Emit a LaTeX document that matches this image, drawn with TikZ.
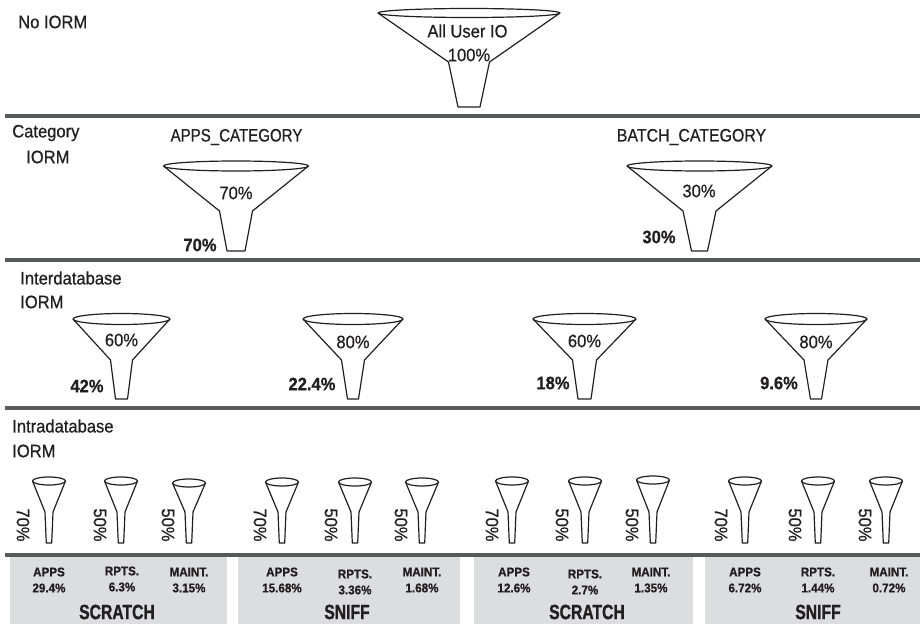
\documentclass[tikz,border=0pt]{standalone}
\usepackage{fontspec}
\setmainfont[FakeStretch=0.92,FakeBold=0.7]{Liberation Sans}
\newfontfamily\storefont[FakeStretch=0.76,FakeBold=1.2]{Liberation Sans}
\definecolor{ruleGray}{RGB}{88,89,91}
\definecolor{boxGray}{RGB}{220,221,223}
\definecolor{inkGray}{RGB}{35,31,32}
\tikzset{
  lab/.style={inner sep=0pt,text=inkGray,font=\fontsize{13.5}{15}\selectfont},
  labb/.style={inner sep=0pt,text=inkGray,font=\fontsize{13.5}{15}\selectfont\bfseries},
  tiny/.style={inner sep=0pt,align=center,text=inkGray,font=\fontsize{9.5}{12}\selectfont\bfseries},
  store/.style={inner sep=0pt,text=inkGray,font=\fontsize{15.5}{17}\storefont\bfseries},
  funnelline/.style={line width=0.9pt,line join=round,inkGray},
  sep/.style={line width=3pt,ruleGray}
}
% args: centre x, top y, half width, rim height, neck half width, neck y, foot half width, foot y
\newcommand{\funnel}[8]{
  \draw [funnelline] (#1,#2) ellipse [x radius=#3,y radius=#4];
  \draw [funnelline] (#1-#3,#2) -- (#1-#5,#6) -- (#1-#7,#8) -- (#1+#7,#8) -- (#1+#5,#6) -- (#1+#3,#2);
}
\begin{document}
\begin{tikzpicture}[x=0.75pt,y=0.75pt,yscale=-1,xscale=1]
\useasboundingbox (0,0) rectangle (920,624);

%grey boxes
\fill [boxGray] (10,556) rectangle (227,624);
\fill [boxGray] (238,556) rectangle (460,624);
\fill [boxGray] (474,556) rectangle (693,624);
\fill [boxGray] (705,556) rectangle (920,624);

%rules
\draw [sep] (5,116) -- (920,116);
\draw [sep] (5,260) -- (920,260);
\draw [sep] (5,408) -- (920,408);
\draw [sep] (5,555) -- (920,555);

%No IORM row
\node [lab,anchor=west] (noiorm) at (18,22) {No IORM};
\funnel{469}{13}{91}{4.5}{20.5}{62}{11}{107}
\node [lab] (alluser) at (467.5,31) {All User IO};
\node [lab] (allpct) at (469,55) {100\%};

%Category row
\node [lab,anchor=west] (cat1) at (12,133) {Category};
\node [lab,anchor=west] (cat2) at (26,157) {IORM};
\node [lab,xscale=0.91] (appscat) at (236.5,137) {APPS\_CATEGORY};
\node [lab,xscale=0.96] (batchcat) at (691.5,137) {BATCH\_CATEGORY};
\funnel{236}{166}{72.5}{5}{16.5}{211}{9}{251}
\funnel{699.5}{166}{72.5}{5}{16.5}{211}{8}{251}
\node [lab] (catin1) at (236,193) {70\%};
\node [lab] (catin2) at (699,191) {30\%};
\node [labb] (catout1) at (200,245) {70\%};
\node [labb] (catout2) at (659,237) {30\%};

%Interdatabase row
\node [lab,anchor=west] (inter1) at (20,278) {Interdatabase};
\node [lab,anchor=west] (inter2) at (20,302) {IORM};
\foreach \cx/\rx/\nk/\ft/\inp/\iny/\outp/\ox/\oy/\id in {121.5/48.5/11/6/60/340/42/87/386/a,353/50/11.5/5.5/80/342/22.4/312/384/b,584.5/51.5/12/6.5/60/341/18/553/383/c,816/51/12/5.5/80/342/9.6/779/383/d}{
  \funnel{\cx}{319}{\rx}{5.5}{\nk}{360}{\ft}{399}
  \node [lab] (in\id) at (\cx,\iny) {\inp\%};
  \node [labb] (out\id) at (\ox,\oy) {\outp\%};
}

%Intradatabase row
\node [lab,anchor=west] (intra1) at (12,426) {Intradatabase};
\node [lab,anchor=west] (intra2) at (12,451) {IORM};
\foreach \cx/\ry/\pct/\tx/\id in {49/481/70/23/a,121/481/50/100/b,189/483/50/168/c,282/482/70/260/d,355/482/50/331/e,422/482/50/401/f,512/481/70/492/g,585/481/50/562/h,653/480/50/632/i,745/481/70/721/j,818/481/50/795/k,886/481/50/865/l}{
  \funnel{\cx}{\ry}{16.5}{4}{4}{512}{2.7}{543}
  \node [lab,rotate=-90] (pct\id) at (\tx,525) {\pct\%};
}

%bottom labels
\foreach \tx/\ty/\nm/\val/\id in {49/580/APPS/29.4/a,122/579/RPTS./6.3/b,189/580/MAINT./3.15/c,282/580/APPS/15.68/d,355/582/RPTS./3.36/e,422/580/MAINT./1.68/f,514/580/APPS/12.6/g,585/582/RPTS./2.7/h,651/580/MAINT./1.35/i,745/580/APPS/6.72/j,818/580/RPTS./1.44/k,889/580/MAINT./0.72/l}{
  \node [tiny] (bot\id) at (\tx,\ty) {\nm\\\val\%};
}
\node [store] (store1) at (117,612) {SCRATCH};
\node [store] (store2) at (347,612) {SNIFF};
\node [store] (store3) at (587,612) {SCRATCH};
\node [store] (store4) at (818,612) {SNIFF};
\end{tikzpicture}
\end{document}
